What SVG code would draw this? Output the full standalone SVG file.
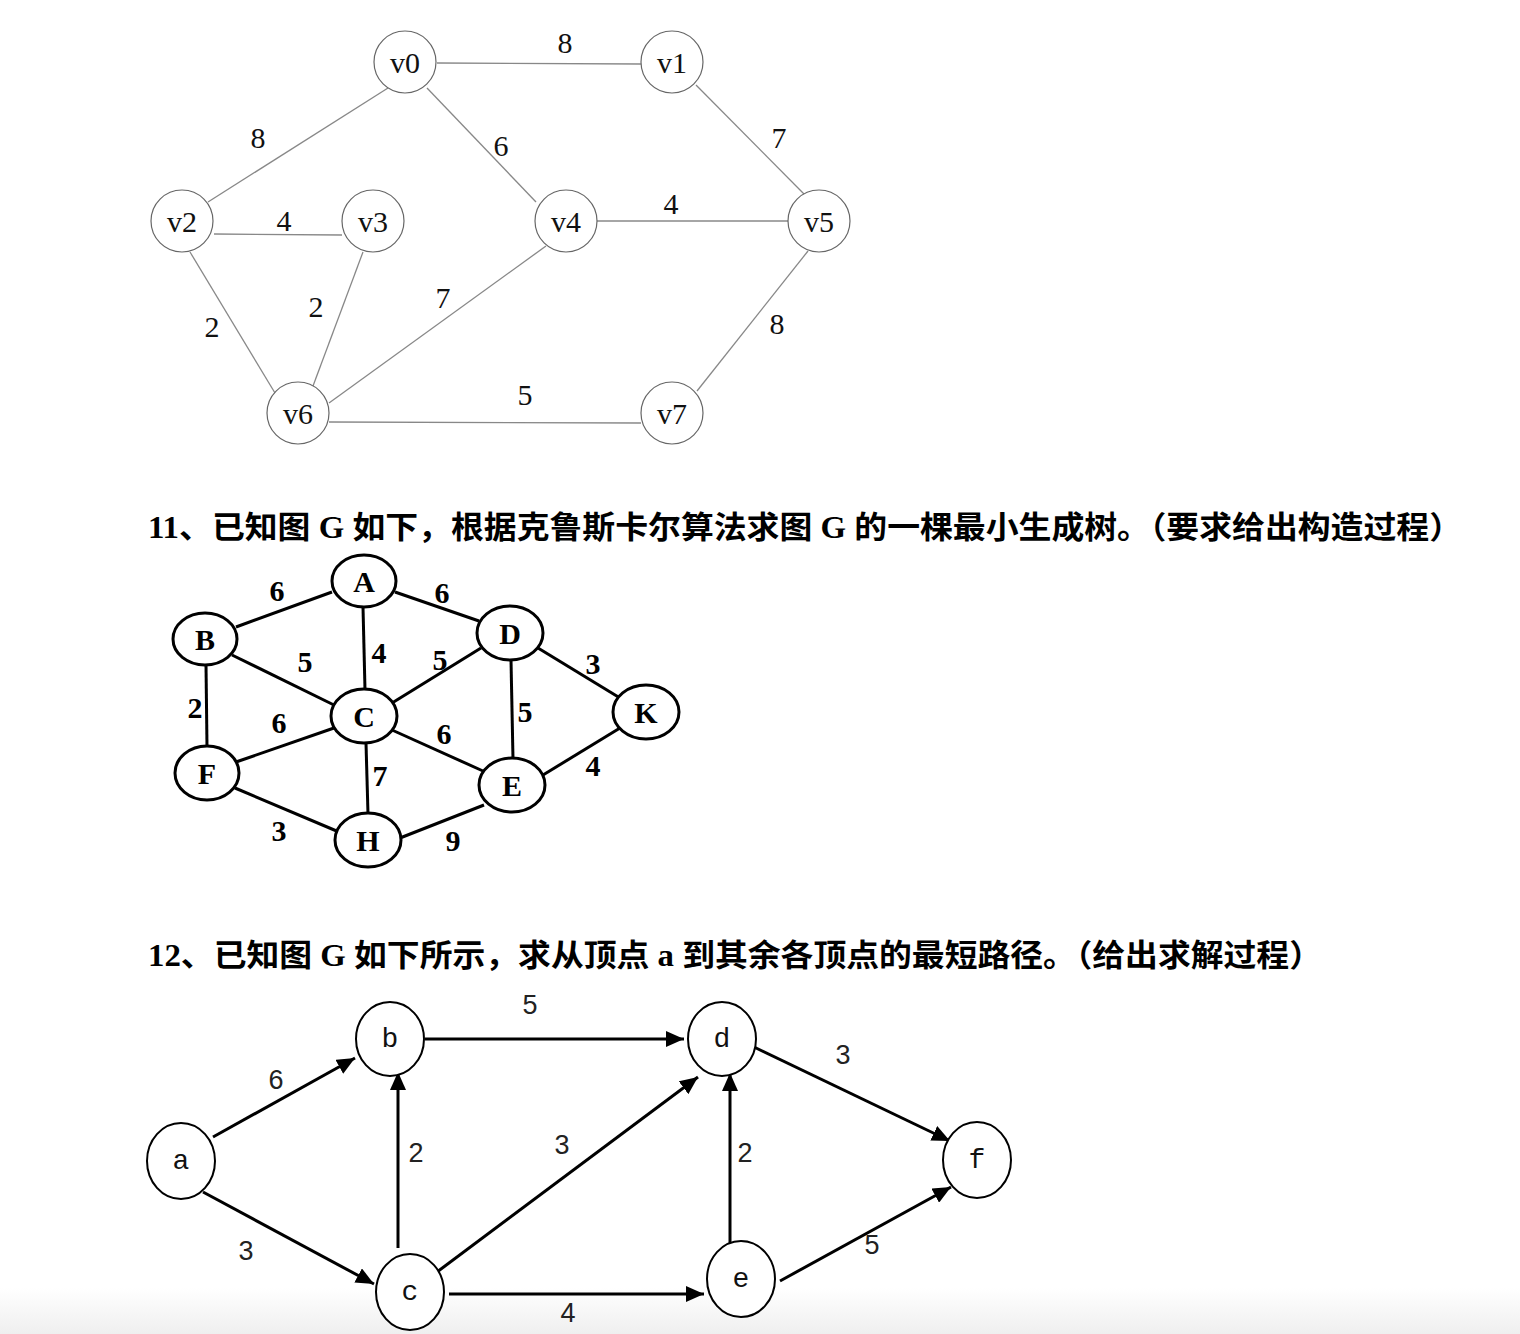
<svg xmlns="http://www.w3.org/2000/svg" width="1520" height="1334" viewBox="0 0 1520 1334">
<defs>
<linearGradient id="bg" x1="0" y1="0" x2="0" y2="1">
<stop offset="0" stop-color="#ffffff"/>
<stop offset="1" stop-color="#efefef"/>
</linearGradient>
<marker id="ah" markerUnits="userSpaceOnUse" markerWidth="20" markerHeight="16" refX="18" refY="8" orient="auto">
<path d="M0,0 L18,8 L0,16 Z" fill="#000"/>
</marker>
</defs>
<style>
.n1 circle{fill:#fff;stroke:#666;stroke-width:1.2}
.t1{font-family:"Liberation Serif","DejaVu Serif",serif;font-size:30px;fill:#111;text-anchor:middle;dominant-baseline:central}
.e1 line{stroke:#888;stroke-width:1.3}
.n2 ellipse{fill:#fff;stroke:#000;stroke-width:3}
.t2{font-family:"Liberation Serif","DejaVu Serif",serif;font-size:30px;font-weight:bold;fill:#000;text-anchor:middle;dominant-baseline:central}
.e2 line{stroke:#000;stroke-width:3}
.n3 ellipse{fill:#fff;stroke:#000;stroke-width:2}
.t3{font-family:"Liberation Mono","DejaVu Sans Mono",monospace;font-size:28px;fill:#111;text-anchor:middle;dominant-baseline:central}
.l3{font-family:"Liberation Sans","DejaVu Sans",sans-serif;font-size:27px;fill:#222;text-anchor:middle;dominant-baseline:central}
.e3 line{stroke:#000;stroke-width:3;marker-end:url(#ah)}
.h{font-family:"Liberation Serif","Noto Sans CJK SC",serif;font-size:31px;font-weight:bold;fill:#000}
</style>
<rect x="0" y="0" width="1520" height="1334" fill="#fff"/>
<rect x="0" y="1288" width="1520" height="46" fill="url(#bg)"/>

<!-- Graph 1 -->
<g id="g1-edges" class="e1">
<line x1="437" y1="63" x2="641" y2="64"/>
<line x1="388" y1="88" x2="208" y2="202"/>
<line x1="427" y1="88" x2="536" y2="202"/>
<line x1="696" y1="85" x2="804" y2="194"/>
<line x1="214" y1="234" x2="342" y2="235"/>
<line x1="597" y1="221" x2="788" y2="221"/>
<line x1="190" y1="252" x2="275" y2="393"/>
<line x1="363" y1="252" x2="313" y2="386"/>
<line x1="546" y1="246" x2="329" y2="403"/>
<line x1="808" y1="251" x2="697" y2="391"/>
<line x1="329" y1="422" x2="641" y2="423"/>
</g>
<g id="g1-labels">
<text class="t1" x="565" y="42">8</text>
<text class="t1" x="258" y="137">8</text>
<text class="t1" x="501" y="145">6</text>
<text class="t1" x="779" y="137">7</text>
<text class="t1" x="284" y="220">4</text>
<text class="t1" x="671" y="203">4</text>
<text class="t1" x="212" y="326">2</text>
<text class="t1" x="316" y="306">2</text>
<text class="t1" x="443" y="297">7</text>
<text class="t1" x="777" y="323">8</text>
<text class="t1" x="525" y="394">5</text>
</g>
<g id="v0" class="n1"><circle cx="405" cy="62" r="31"/><text class="t1" x="405" y="62">v0</text></g>
<g id="v1" class="n1"><circle cx="672" cy="62" r="31"/><text class="t1" x="672" y="62">v1</text></g>
<g id="v2" class="n1"><circle cx="182" cy="221" r="31"/><text class="t1" x="182" y="221">v2</text></g>
<g id="v3" class="n1"><circle cx="373" cy="221" r="31"/><text class="t1" x="373" y="221">v3</text></g>
<g id="v4" class="n1"><circle cx="566" cy="221" r="31"/><text class="t1" x="566" y="221">v4</text></g>
<g id="v5" class="n1"><circle cx="819" cy="221" r="31"/><text class="t1" x="819" y="221">v5</text></g>
<g id="v6" class="n1"><circle cx="298" cy="413" r="31"/><text class="t1" x="298" y="413">v6</text></g>
<g id="v7" class="n1"><circle cx="672" cy="413" r="31"/><text class="t1" x="672" y="413">v7</text></g>

<text id="q11" class="h" x="148" y="538" textLength="1314" lengthAdjust="spacingAndGlyphs">11、已知图 G 如下，根据克鲁斯卡尔算法求图 G 的一棵最小生成树。（要求给出构造过程）</text>

<!-- Graph 2 -->
<g id="g2-edges" class="e2">
<line x1="236" y1="627" x2="332" y2="592"/>
<line x1="395" y1="592" x2="479" y2="621"/>
<line x1="363" y1="607" x2="365" y2="690"/>
<line x1="232" y1="655" x2="336" y2="706"/>
<line x1="481" y1="648" x2="392" y2="703"/>
<line x1="538" y1="648" x2="620" y2="698"/>
<line x1="511" y1="660" x2="513" y2="759"/>
<line x1="206" y1="665" x2="207" y2="747"/>
<line x1="236" y1="762" x2="334" y2="728"/>
<line x1="392" y1="730" x2="483" y2="771"/>
<line x1="366" y1="743" x2="368" y2="814"/>
<line x1="543" y1="775" x2="620" y2="728"/>
<line x1="235" y1="788" x2="339" y2="832"/>
<line x1="400" y1="838" x2="484" y2="805"/>
</g>
<g id="g2-labels">
<text class="t2" x="277" y="590">6</text>
<text class="t2" x="442" y="592">6</text>
<text class="t2" x="305" y="661">5</text>
<text class="t2" x="379" y="652">4</text>
<text class="t2" x="440" y="659">5</text>
<text class="t2" x="593" y="663">3</text>
<text class="t2" x="195" y="707">2</text>
<text class="t2" x="279" y="722">6</text>
<text class="t2" x="525" y="711">5</text>
<text class="t2" x="444" y="733">6</text>
<text class="t2" x="380" y="775">7</text>
<text class="t2" x="593" y="765">4</text>
<text class="t2" x="279" y="830">3</text>
<text class="t2" x="453" y="840">9</text>
</g>
<g id="A" class="n2"><ellipse cx="364" cy="581" rx="32" ry="26"/><text class="t2" x="364" y="581">A</text></g>
<g id="B" class="n2"><ellipse cx="205" cy="639" rx="32" ry="26"/><text class="t2" x="205" y="639">B</text></g>
<g id="D" class="n2"><ellipse cx="510" cy="633" rx="33" ry="27"/><text class="t2" x="510" y="633">D</text></g>
<g id="C" class="n2"><ellipse cx="364" cy="716" rx="33" ry="27"/><text class="t2" x="364" y="716">C</text></g>
<g id="K" class="n2"><ellipse cx="646" cy="712" rx="33" ry="27"/><text class="t2" x="646" y="712">K</text></g>
<g id="F" class="n2"><ellipse cx="207" cy="773" rx="32" ry="27"/><text class="t2" x="207" y="773">F</text></g>
<g id="E" class="n2"><ellipse cx="512" cy="785" rx="33" ry="27"/><text class="t2" x="512" y="785">E</text></g>
<g id="H" class="n2"><ellipse cx="368" cy="840" rx="33" ry="27"/><text class="t2" x="368" y="840">H</text></g>

<text id="q12" class="h" x="148" y="966" textLength="1174" lengthAdjust="spacingAndGlyphs">12、已知图 G 如下所示，求从顶点 a 到其余各顶点的最短路径。（给出求解过程）</text>

<!-- Graph 3 -->
<g id="g3-edges" class="e3">
<line x1="213" y1="1137" x2="355" y2="1058"/>
<line x1="425" y1="1039" x2="684" y2="1039"/>
<line x1="754" y1="1047" x2="950" y2="1141"/>
<line x1="203" y1="1192" x2="374" y2="1284"/>
<line x1="398" y1="1248" x2="398" y2="1072"/>
<line x1="437" y1="1272" x2="698" y2="1077"/>
<line x1="449" y1="1294" x2="704" y2="1294"/>
<line x1="730" y1="1247" x2="730" y2="1073"/>
<line x1="780" y1="1281" x2="951" y2="1187"/>
</g>
<g id="g3-labels">
<text class="l3" x="530" y="1005">5</text>
<text class="l3" x="276" y="1080">6</text>
<text class="l3" x="843" y="1055">3</text>
<text class="l3" x="416" y="1153">2</text>
<text class="l3" x="562" y="1145">3</text>
<text class="l3" x="745" y="1153">2</text>
<text class="l3" x="246" y="1251">3</text>
<text class="l3" x="872" y="1245">5</text>
<text class="l3" x="568" y="1313">4</text>
</g>
<g id="a" class="n3"><ellipse cx="181" cy="1161" rx="34" ry="38"/><text class="t3" x="181" y="1161">a</text></g>
<g id="b" class="n3"><ellipse cx="390" cy="1039" rx="34" ry="37"/><text class="t3" x="390" y="1039">b</text></g>
<g id="d" class="n3"><ellipse cx="722" cy="1039" rx="34" ry="37"/><text class="t3" x="722" y="1039">d</text></g>
<g id="f" class="n3"><ellipse cx="977" cy="1160" rx="34" ry="38"/><text class="t3" x="977" y="1160">f</text></g>
<g id="c" class="n3"><ellipse cx="410" cy="1292" rx="34" ry="38"/><text class="t3" x="410" y="1292">c</text></g>
<g id="e" class="n3"><ellipse cx="741" cy="1279" rx="34" ry="38"/><text class="t3" x="741" y="1279">e</text></g>
</svg>
